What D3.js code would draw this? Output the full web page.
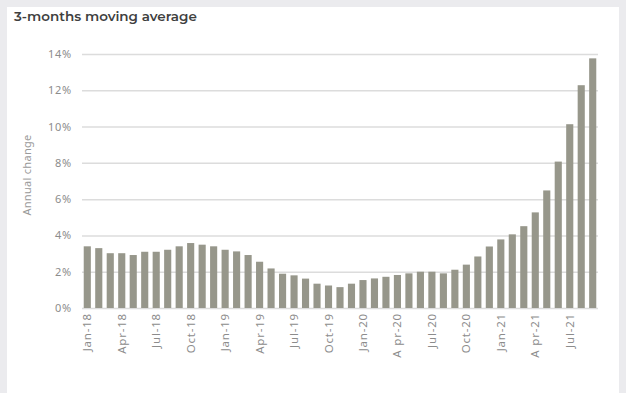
<!DOCTYPE html>
<html>
<head>
<meta charset="utf-8">
<script src="https://cdn.jsdelivr.net/npm/d3@7/dist/d3.min.js"></script>
<style>
  html, body { margin: 0; padding: 0; background: #ebebee; }
  svg { display: block; }
</style>
</head>
<body>
<svg id="chart" width="626" height="393"></svg>
<script>
// Monthly labels, Jan-18 .. Sep-21
const months = ["Jan","Feb","Mar","Apr","May","Jun","Jul","Aug","Sep","Oct","Nov","Dec"];
const years = ["18","19","20","21"];
const categories = [];
years.forEach(y => months.forEach(m => { if (!(y === "21" && months.indexOf(m) > 8)) categories.push(m + "-" + y); }));

// Annual change (%), 3-months moving average
const values = [
  3.40, 3.30, 3.02, 3.02, 2.92, 3.10, 3.10, 3.21, 3.40, 3.58, 3.49, 3.40,
  3.21, 3.12, 2.92, 2.55, 2.18, 1.89, 1.80, 1.62, 1.34, 1.24, 1.15, 1.34,
  1.54, 1.63, 1.72, 1.82, 1.91, 2.00, 2.00, 1.91, 2.11, 2.39, 2.84, 3.39,
  3.78, 4.06, 4.51, 5.27, 6.48, 8.07, 10.13, 12.28, 13.76
];

// Labelled x ticks (every third month)
const xTickLabels = ["Jan-18","Apr-18","Jul-18","Oct-18","Jan-19","Apr-19","Jul-19","Oct-19",
  "Jan-20","Apr-20","Jul-20","Oct-20","Jan-21","Apr-21","Jul-21"];
const xTickText = { "Apr-20": "A pr-20", "Apr-21": "A pr-21" };
const yTicks = [0, 2, 4, 6, 8, 10, 12, 14];

const svg = d3.select("#chart");

// white card
svg.append("rect").attr("x", 7).attr("y", 7).attr("width", 612).attr("height", 386).attr("fill", "#ffffff");

svg.append("text")
  .attr("x", 14).attr("y", 21)
  .attr("font-family", "Montserrat, 'Noto Sans', sans-serif")
  .attr("font-weight", 600)
  .attr("font-size", 13.5)
  .attr("fill", "#3f3f3f")
  .text("3-months moving average");

const plot = { left: 82, right: 598, top: 54, bottom: 308 };

const x = d3.scaleBand().domain(categories).range([plot.left, plot.right]).paddingInner(0.38).paddingOuter(0.15);
const y = d3.scaleLinear().domain([0, 14]).range([plot.bottom, plot.top]);

// gridlines + y labels
const yAxis = d3.axisLeft(y).tickValues(yTicks).tickSize(-(plot.right - plot.left)).tickFormat(d => d + "%").tickPadding(10);
const gy = svg.append("g").attr("transform", `translate(${plot.left},0)`).call(yAxis);
gy.select(".domain").remove();
gy.selectAll(".tick line").attr("stroke", "#dcdcdc").attr("stroke-width", 1.5);
gy.selectAll(".tick text")
  .attr("font-family", "'Noto Sans', sans-serif")
  .attr("font-size", 11)
  .attr("letter-spacing", 0.8)
  .attr("fill", "#8c8c8c");

// bars
svg.append("g").selectAll("rect")
  .data(values)
  .join("rect")
  .attr("x", (d, i) => x(categories[i]))
  .attr("width", x.bandwidth())
  .attr("y", d => y(d))
  .attr("height", d => y(0) - y(d))
  .attr("fill", "#97978b");

// x labels
const xAxis = d3.axisBottom(x).tickValues(xTickLabels).tickSize(0).tickPadding(6)
  .tickFormat(d => xTickText[d] || d);
const gx = svg.append("g").attr("transform", `translate(0,${plot.bottom})`).call(xAxis);
gx.select(".domain").remove();
gx.selectAll(".tick text")
  .attr("font-family", "'Noto Sans', sans-serif")
  .attr("font-size", 11.5)
  .attr("letter-spacing", 0.8)
  .attr("fill", "#8c8c8c")
  .attr("transform", "rotate(-90)")
  .attr("text-anchor", "end")
  .attr("dy", "0.35em")
  .attr("x", -5)
  .attr("y", 0);

// y axis title
svg.append("text")
  .attr("transform", `translate(31,${(plot.top + plot.bottom) / 2 - 6}) rotate(-90)`)
  .attr("text-anchor", "middle")
  .attr("font-family", "'Noto Sans', sans-serif")
  .attr("font-size", 11)
  .attr("letter-spacing", 0.3)
  .attr("fill", "#9a9a9a")
  .text("Annual change");
</script>
</body>
</html>
